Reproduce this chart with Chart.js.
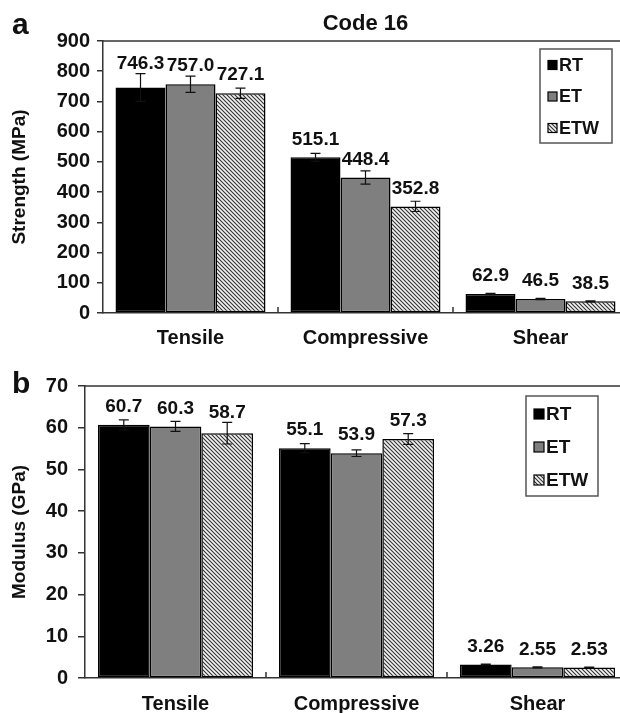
<!DOCTYPE html>
<html lang="en">
<head>
  <meta charset="UTF-8">
  <title>Code 16</title>
  <script src="https://cdn.jsdelivr.net/npm/chart.js"></script>
  <style>
    html, body { margin: 0; padding: 0; background: #fff; overflow: hidden; }
    .wrap { width: 632px; }
    canvas { display: block; }
  </style>
</head>
<body>
  <div class="wrap">
    <canvas id="strengthChart" width="632" height="355"></canvas>
    <canvas id="modulusChart" width="632" height="358"></canvas>
  </div>

  <script>
    const categories = ['Tensile', 'Compressive', 'Shear'];
    const seriesNames = ['RT', 'ET', 'ETW'];

    // panel a - strength (MPa)
    const strengthRT = [746.3, 515.1, 62.9];
    const strengthET = [757.0, 448.4, 46.5];
    const strengthETW = [727.1, 352.8, 38.5];
    const strengthErrRT = [46, 13, 2];
    const strengthErrET = [27, 22, 2];
    const strengthErrETW = [17, 17, 2];
    const strengthTicks = [0, 100, 200, 300, 400, 500, 600, 700, 800, 900];

    // panel b - modulus (GPa)
    const modulusRT = [60.7, 55.1, 3.26];
    const modulusET = [60.3, 53.9, 2.55];
    const modulusETW = [58.7, 57.3, 2.53];
    const modulusErrRT = [1.2, 1.1, 0.1];
    const modulusErrET = [1.2, 0.8, 0.1];
    const modulusErrETW = [2.6, 1.3, 0.1];
    const modulusTicks = [0, 10, 20, 30, 40, 50, 60, 70];

    const FONT = '"Liberation Sans", Arial, sans-serif';
    const AXIS = '#333';

    function makeHatch() {
      const c = document.createElement('canvas');
      c.width = 4; c.height = 4;
      const g = c.getContext('2d');
      g.fillStyle = '#f2f2f2';
      g.fillRect(0, 0, 4, 4);
      g.strokeStyle = '#333';
      g.lineWidth = 1.1;
      g.beginPath();
      g.moveTo(-1, -1); g.lineTo(5, 5);
      g.moveTo(-1, 3); g.lineTo(1, 5);
      g.moveTo(3, -1); g.lineTo(5, 1);
      g.stroke();
      return g.createPattern(c, 'repeat');
    }
    const hatch = makeHatch();
    const fills = ['#000000', '#7f7f7f', hatch];

    // error bars, value labels, frame, category ticks, legend, titles
    const decorations = {
      id: 'decorations',
      afterDatasetsDraw(chart, args, opts) {
        const ctx = chart.ctx;
        const y = chart.scales.y;
        const x = chart.scales.x;
        const area = chart.chartArea;
        ctx.save();

        // top frame line
        ctx.strokeStyle = AXIS;
        ctx.lineWidth = 1.5;
        ctx.beginPath();
        ctx.moveTo(area.left, area.top);
        ctx.lineTo(area.right + 10, area.top);
        ctx.stroke();

        // upward ticks between categories
        ctx.beginPath();
        for (let i = 1; i < categories.length; i++) {
          const bx = (x.getPixelForValue(i - 1) + x.getPixelForValue(i)) / 2;
          ctx.moveTo(bx, area.bottom);
          ctx.lineTo(bx, area.bottom - 6);
        }
        ctx.stroke();

        chart.data.datasets.forEach((ds, i) => {
          const meta = chart.getDatasetMeta(i);
          meta.data.forEach((bar, j) => {
            const v = ds.data[j];
            const e = ds.errors[j];
            const top = y.getPixelForValue(v + e);
            const bot = y.getPixelForValue(v - e);
            ctx.strokeStyle = '#111';
            ctx.lineWidth = 1.2;
            ctx.beginPath();
            ctx.moveTo(bar.x, top); ctx.lineTo(bar.x, bot);
            ctx.moveTo(bar.x - 5, top); ctx.lineTo(bar.x + 5, top);
            ctx.moveTo(bar.x - 5, bot); ctx.lineTo(bar.x + 5, bot);
            ctx.stroke();

            ctx.fillStyle = '#111';
            ctx.font = 'bold 19px ' + FONT;
            ctx.textAlign = 'center';
            ctx.textBaseline = 'middle';
            const ly = Math.min(bar.y - 18, top - 10);
            ctx.fillText(opts.format(v), bar.x, ly);
          });
        });

        // legend box
        const lg = opts.legend;
        const bx = area.right - lg.right - lg.w;
        const by = area.top + lg.top;
        ctx.fillStyle = '#fff';
        ctx.fillRect(bx, by, lg.w, lg.h);
        ctx.strokeStyle = '#555';
        ctx.lineWidth = 1.5;
        ctx.strokeRect(bx, by, lg.w, lg.h);
        chart.data.datasets.forEach((ds, i) => {
          const cy = by + lg.first + i * lg.gap;
          const m = lg.marker;
          ctx.fillStyle = ds.backgroundColor;
          ctx.fillRect(bx + 8, cy - m / 2, m, m);
          ctx.strokeStyle = '#000';
          ctx.lineWidth = 1.2;
          ctx.strokeRect(bx + 8, cy - m / 2, m, m);
          ctx.fillStyle = '#111';
          ctx.font = 'bold ' + lg.font + 'px ' + FONT;
          ctx.textAlign = 'left';
          ctx.textBaseline = 'middle';
          ctx.fillText(ds.label, bx + 10 + m, cy + 1);
        });

        // panel letter and title
        ctx.fillStyle = '#111';
        ctx.font = 'bold 30px ' + FONT;
        ctx.textAlign = 'left';
        ctx.textBaseline = 'alphabetic';
        ctx.fillText(opts.letter, 12, opts.letterY);
        if (opts.title) {
          ctx.font = 'bold 22px ' + FONT;
          ctx.textAlign = 'center';
          ctx.textBaseline = 'middle';
          ctx.fillText(opts.title, (area.left + area.right) / 2, 24);
        }
        ctx.restore();
      }
    };

    function buildChart(id, cfg) {
      const ctx = document.getElementById(id).getContext('2d');
      const datasets = seriesNames.map((name, i) => ({
        label: name,
        data: cfg.series[i],
        errors: cfg.errors[i],
        backgroundColor: fills[i],
        borderColor: '#000',
        borderWidth: 1.5,
        borderSkipped: false,
        categoryPercentage: 0.857,
        barPercentage: 1.0
      }));

      return new Chart(ctx, {
        type: 'bar',
        data: { labels: categories, datasets: datasets },
        plugins: [decorations],
        options: {
          responsive: false,
          animation: false,
          layout: { padding: { top: cfg.top, left: 0, right: 4, bottom: 0 } },
          plugins: {
            legend: { display: false },
            tooltip: { enabled: false },
            decorations: {
              format: cfg.format,
              legend: cfg.legend,
              letter: cfg.letter,
              letterY: cfg.letterY,
              title: cfg.title
            }
          },
          scales: {
            x: {
              grid: { display: false },
              border: { display: true, color: AXIS, width: 1.5 },
              ticks: {
                color: '#111',
                padding: cfg.xPad,
                font: { family: FONT, size: 20, weight: 'bold' }
              },
              afterFit: s => { s.height = cfg.xHeight; }
            },
            y: {
              min: 0,
              max: cfg.ticks[cfg.ticks.length - 1],
              afterBuildTicks: s => { s.ticks = cfg.ticks.map(v => ({ value: v })); },
              afterFit: s => { s.width = cfg.yWidth; },
              grid: {
                drawOnChartArea: false,
                drawTicks: true,
                tickLength: cfg.tickLen,
                color: AXIS,
                lineWidth: 1.5
              },
              border: { display: true, color: AXIS, width: 1.5 },
              ticks: {
                color: '#111',
                padding: cfg.tickPad,
                font: { family: FONT, size: 20, weight: 'bold' }
              },
              title: {
                display: true,
                text: cfg.yTitle,
                color: '#111',
                padding: { top: 8, bottom: 0 },
                font: { family: FONT, size: 19, weight: 'bold' }
              }
            }
          }
        }
      });
    }

    buildChart('strengthChart', {
      series: [strengthRT, strengthET, strengthETW],
      errors: [strengthErrRT, strengthErrET, strengthErrETW],
      ticks: strengthTicks,
      yTitle: 'Strength (MPa)',
      top: 41, xHeight: 42, xPad: 5, yWidth: 103, tickLen: 6, tickPad: 7,
      format: v => v.toFixed(1),
      legend: { right: 16, top: 8, w: 72, h: 94, first: 16, gap: 31.5, marker: 9, font: 18 },
      letter: 'a', letterY: 34,
      title: 'Code 16'
    });

    buildChart('modulusChart', {
      series: [modulusRT, modulusET, modulusETW],
      errors: [modulusErrRT, modulusErrET, modulusErrETW],
      ticks: modulusTicks,
      yTitle: 'Modulus (GPa)',
      top: 31, xHeight: 35, xPad: 6, yWidth: 85, tickLen: 7, tickPad: 10,
      format: v => (v < 10 ? v.toFixed(2) : v.toFixed(1)),
      legend: { right: 30, top: 10, w: 72, h: 100, first: 18, gap: 33, marker: 10, font: 19 },
      letter: 'b', letterY: 38,
      title: null
    });
  </script>
</body>
</html>
